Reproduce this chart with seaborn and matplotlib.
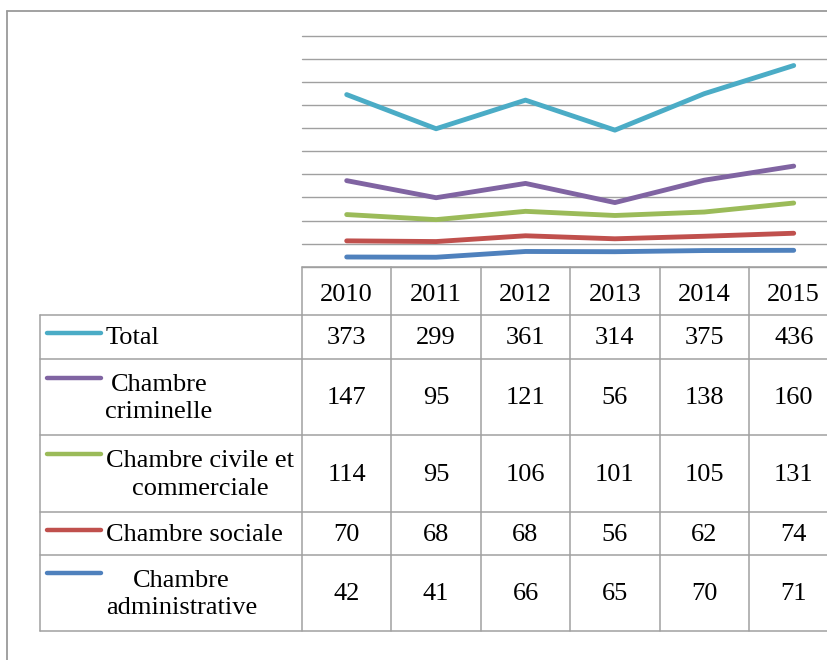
import matplotlib
matplotlib.use("Agg")
import matplotlib.pyplot as plt
import seaborn as sns
import pandas as pd
import numpy as np

# ---- data ----
years = ["2010", "2011", "2012", "2013", "2014", "2015"]
series = ["Total", "Chambre criminelle", "Chambre civile et commerciale",
          "Chambre sociale", "Chambre administrative"]
row_labels = ["Total", "Chambre\ncriminelle", "Chambre civile et\ncommerciale",
              "Chambre sociale", "Chambre\nadministrative"]
total = [373, 299, 361, 314, 375, 436]
criminelle = [147, 95, 121, 56, 138, 160]
civile = [114, 95, 106, 101, 105, 131]
sociale = [70, 68, 68, 56, 62, 74]
administrative = [42, 41, 66, 65, 70, 71]
values = [total, criminelle, civile, sociale, administrative]
colors = ["#4BACC6", "#8064A2", "#9BBB59", "#C0504D", "#4F81BD"]

# stacked line chart (Excel style): bottom = administrative
stack_order = [4, 3, 2, 1, 0]
cum = np.zeros(len(years))
rows = []
for i in stack_order:
    cum = cum + np.array(values[i])
    for j, y in enumerate(years):
        rows.append({"idx": j, "year": y, "series": series[i], "value": cum[j]})
df = pd.DataFrame(rows)

sns.set_theme(style="white")
plt.rcParams["font.family"] = ["Liberation Serif", "DejaVu Serif"]

W, H = 827, 660
fig = plt.figure(figsize=(W / 100, H / 100), dpi=100)
fig.patch.set_facecolor("white")

col_w = 89.4
x0 = 302
ax_bottom = 266.7
ax_top = 36.0
ax = fig.add_axes([x0 / W, 1 - ax_bottom / H, 6 * col_w / W, (ax_bottom - ax_top) / H])
ax.set_xlim(-0.5, 5.5)
ax.set_ylim(0, 1000)
ax.set_yticks(np.arange(0, 1001, 100))
ax.set_xticks([])
ax.yaxis.grid(True, color="#A0A0A0", linewidth=1.0)
for gl in ax.get_ygridlines():
    gl.set_clip_on(False)
ax.set_yticklabels([])
ax.tick_params(left=False, bottom=False)
for s in ax.spines.values():
    s.set_visible(False)
ax.set_facecolor("none")

palette = {series[i]: colors[i] for i in range(len(series))}
sns.lineplot(data=df, x="idx", y="value", hue="series", palette=palette,
             hue_order=[series[i] for i in stack_order], ax=ax, legend=False,
             linewidth=3.5, solid_capstyle="round", solid_joinstyle="round")
ax.set_xlabel("")
ax.set_ylabel("")
ax.set_xlim(-0.5, 5.5)
ax.set_ylim(0, 1000)

# ---- overlay for table (pixel coordinates) ----
ov = fig.add_axes([0, 0, 1, 1])
ov.set_xlim(0, W)
ov.set_ylim(H, 0)
ov.axis("off")
ov.patch.set_alpha(0)

gc = "#A0A0A0"
lw = 1.1
# outer frame
ov.plot([7, 7], [11, H], color="#9A9A9A", lw=1.3)
ov.plot([7, W], [11, 11], color="#9A9A9A", lw=1.3)

row_edges = [315, 359, 435, 512, 555, 631]
table_right = x0 + 6 * col_w
ov.plot([x0, table_right], [ax_bottom, ax_bottom], color=gc, lw=lw)
for y in row_edges:
    ov.plot([40, table_right], [y, y], color=gc, lw=lw)
ov.plot([40, 40], [row_edges[0], row_edges[-1]], color=gc, lw=lw)
for k in range(7):
    xx = x0 + k * col_w
    ov.plot([xx, xx], [ax_bottom, row_edges[-1]], color=gc, lw=lw)

fs = 19
for j, y in enumerate(years):
    ov.text(x0 + (j + 0.5) * col_w, 295, y, ha="center", va="center", fontsize=fs, color="black")

sample_y = [333, 378, 454, 530, 573]
label_x = [106, 159, 200, 106, 181.5]
label_ha = ["left", "center", "center", "left", "center"]
for i in range(len(series)):
    top, bot = row_edges[i], row_edges[i + 1]
    yc = (top + bot) / 2 + 1.5
    ov.plot([47, 101], [sample_y[i], sample_y[i]], color=colors[i], lw=3.2,
            solid_capstyle="round")
    ov.text(label_x[i], yc, row_labels[i], ha=label_ha[i], va="center",
            multialignment="center", fontsize=fs, color="black", linespacing=1.3)
    for j in range(len(years)):
        ov.text(x0 + (j + 0.5) * col_w, yc, str(values[i][j]), ha="center",
                va="center", fontsize=fs, color="black")

fig.savefig("out.png", dpi=100, facecolor="white")
